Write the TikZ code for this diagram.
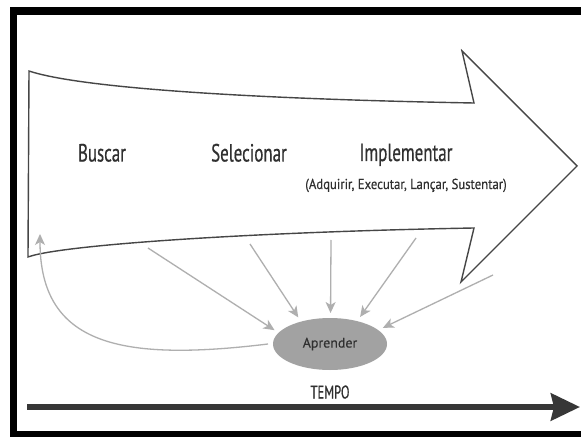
\documentclass[tikz,border=0pt]{standalone}
\usepackage{fontspec}
\setmainfont{PT Sans}
\newfontfamily\cf{PT Sans}[FakeStretch=0.68, FakeBold=0.5]
\newfontfamily\nf{PT Sans}[FakeStretch=0.88, FakeBold=0.3]
\newfontfamily\rf{PT Sans}[FakeBold=0.3]
\usetikzlibrary{arrows.meta,shapes.geometric}
\definecolor{outline}{RGB}{70,70,70}
\definecolor{txt}{RGB}{48,48,48}
\definecolor{feedc}{RGB}{175,175,175}
\definecolor{learnfill}{RGB}{162,162,162}
\definecolor{timec}{RGB}{55,55,55}
\begin{document}
\begin{tikzpicture}[x=1bp,y=-1bp,
  phase/.style={font=\cf\fontsize{25}{28}\selectfont, text=txt, inner sep=0pt, anchor=base},
  subphase/.style={font=\nf\fontsize{14.5}{16}\selectfont, text=txt, inner sep=0pt, anchor=base},
  learnnode/.style={ellipse, fill=learnfill, minimum width=114bp, minimum height=52bp, inner sep=0pt, outer sep=5bp, font=\rf\fontsize{14}{16}\selectfont, text=txt},
  timelabel/.style={font=\cf\fontsize{18.5}{20}\selectfont, text=txt, inner sep=0pt, anchor=base},
  bigarrow/.style={draw=outline, line width=1.4bp, fill=white, line join=miter},
  feed/.style={draw=feedc, line width=1.3bp, -{Stealth[length=11bp,width=10bp,inset=3bp]}},
  timearrow/.style={draw=timec, line width=6bp, -{Stealth[length=29bp,width=27bp,inset=3bp]}}
]
\useasboundingbox (0,0) rectangle (581,437);
\clip (0,0) rectangle (581,437);
\fill[white] (0,0) rectangle (581,437);
\draw[line width=7.5bp] (13.5,11) rectangle (620,434.5);

% big process arrow
\draw[bigarrow] (29,71) .. controls (80,88) and (250,99) .. (474,103)
  -- (462,51) -- (577,166) -- (461,282) -- (474,228)
  .. controls (250,232) and (60,245) .. (28,257) -- cycle;

\node[phase] (busca) at (102,161.5) {Buscar};
\node[phase] (sel) at (249,161.5) {Selecionar};
\node[phase] (impl) at (406,161) {Implementar};
\node[subphase] (implsub) at (406,189) {(Adquirir, Executar, Lançar, Sustentar)};

\node[learnnode] (learn) at (330,344) {Aprender};

\coordinate (f1) at (148,248);
\coordinate (f2) at (250,244);
\coordinate (f3) at (331,240);
\coordinate (f4) at (416,238);
\coordinate (f5) at (493,275);
\coordinate (back) at (40,234);

\draw[feed] (f1) -- (learn.166);
\draw[feed] (f2) -- (learn.140);
\draw[feed] (f3) -- (learn.89);
\draw[feed] (f4) -- (learn.42);
\draw[feed] (f5) -- (learn.17);
\draw[feed] (learn.west) .. controls (120,362) and (40,345) .. (back);

\node[timelabel] (tempo) at (330,398.5) {TEMPO};
\coordinate (t0) at (27,407);
\coordinate (t1) at (580,407);
\draw[timearrow] (t0) -- (t1);
\end{tikzpicture}
\end{document}
